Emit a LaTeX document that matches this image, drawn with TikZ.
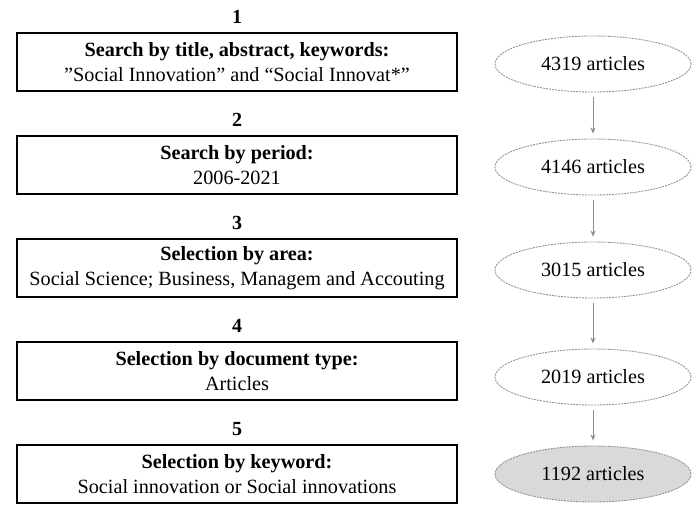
\documentclass[tikz,border=0pt]{standalone}
\usepackage{fontspec}
\setmainfont{Liberation Serif}
\usetikzlibrary{shapes.geometric,arrows.meta}
\tikzset{
  stepbox/.style={draw=black, line width=1.6pt, minimum width=440pt, minimum height=58pt, align=center, inner sep=0pt, font=\fontsize{20.2}{24.5}\selectfont},
  numlabel/.style={font=\fontsize{20}{22}\selectfont\bfseries},
  countell/.style={ellipse, draw=gray!85, dash pattern=on 2pt off 1pt, line width=0.9pt, minimum width=196pt, minimum height=56pt, inner sep=0pt, font=\fontsize{20.2}{22}\selectfont},
  flowarrow/.style={draw=gray!90, line width=1pt, -{Stealth[length=6pt,width=5pt]}, shorten >=5pt, shorten <=5pt}
}
\begin{document}
\begin{tikzpicture}[x=1pt,y=1pt]
\useasboundingbox (0,0) rectangle (692,504);
\node[stepbox] (b1) at (237,442) {\textbf{Search by title, abstract, keywords:}\\''Social Innovation'' and ``Social Innovat*''};
\node[stepbox] (b2) at (237,339) {\textbf{Search by period:}\\2006-2021};
\node[stepbox] (b3) at (237,236) {\textbf{Selection by area:}\\Social Science; Business, Managem and Accouting};
\node[stepbox] (b4) at (237,133) {\textbf{Selection by document type:}\\Articles};
\node[stepbox] (b5) at (237,30) {\textbf{Selection by keyword:}\\Social innovation or Social innovations};
\node[numlabel] (n1) at (237,487) {1};
\node[numlabel] (n2) at (237,384) {2};
\node[numlabel] (n3) at (237,281) {3};
\node[numlabel] (n4) at (237,178) {4};
\node[numlabel] (n5) at (237,75) {5};
\node[countell] (e1) at (593,440) {4319 articles};
\node[countell] (e2) at (593,337) {4146 articles};
\node[countell] (e3) at (593,234) {3015 articles};
\node[countell] (e4) at (593,127) {2019 articles};
\node[countell, fill=gray!30] (e5) at (593,30) {1192 articles};
\draw[flowarrow] (e1) -- (e2);
\draw[flowarrow] (e2) -- (e3);
\draw[flowarrow] (e3) -- (e4);
\draw[flowarrow] (e4) -- (e5);
\end{tikzpicture}
\end{document}
